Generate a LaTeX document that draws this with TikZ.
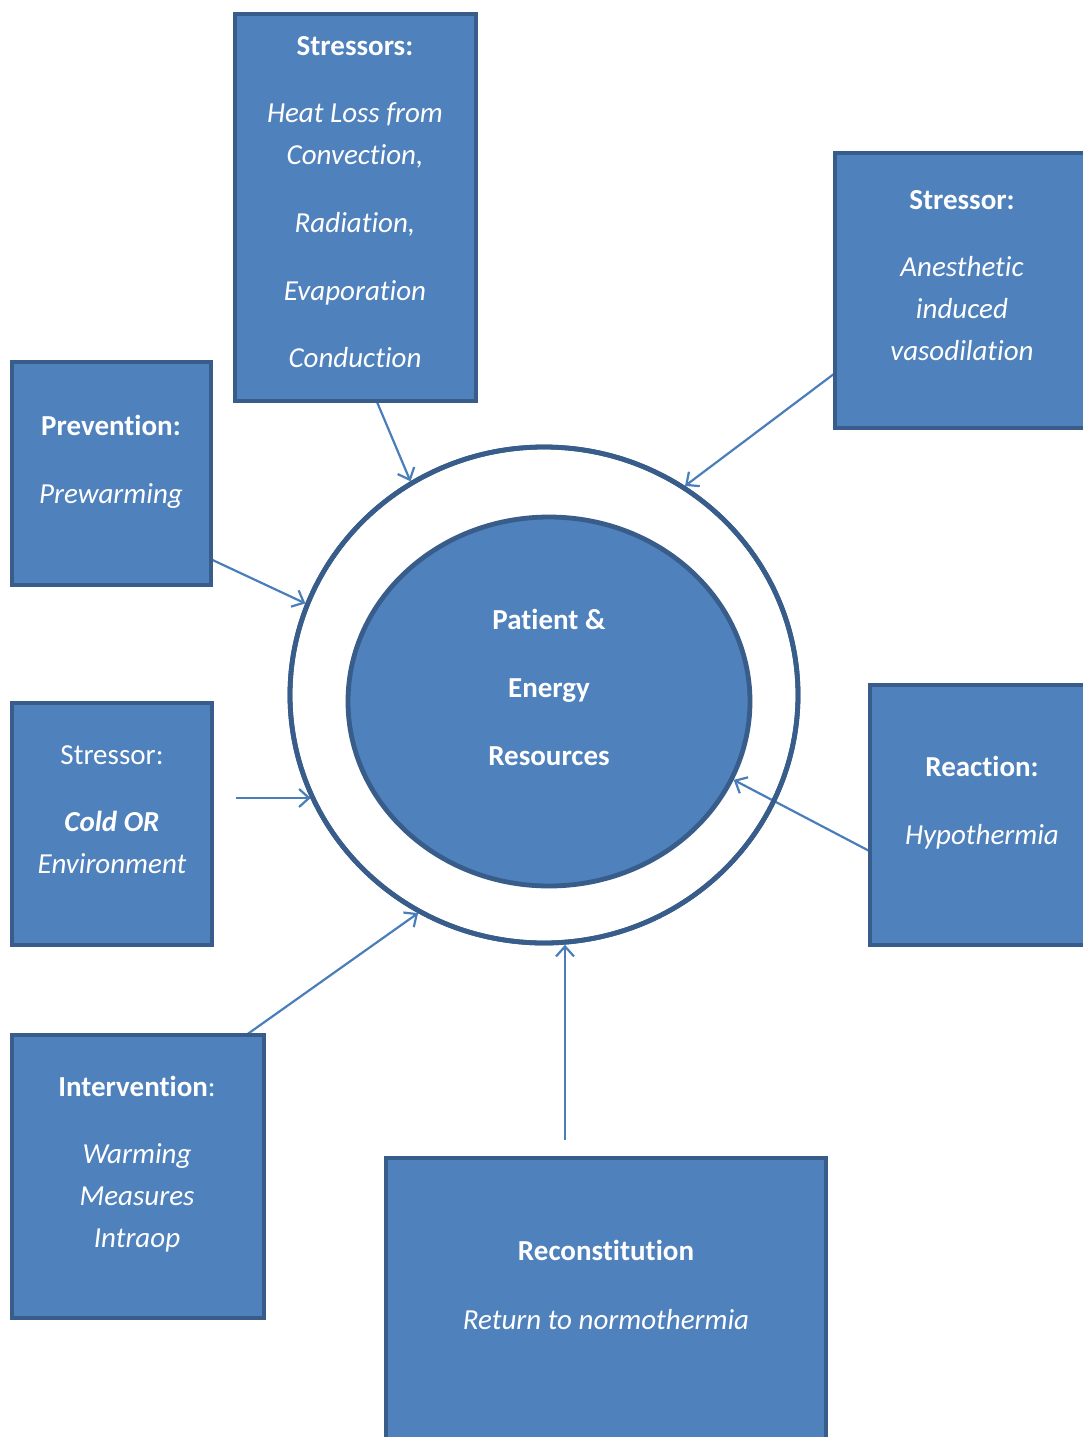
\documentclass[tikz,border=0pt]{standalone}
\usepackage{fontspec}
\setmainfont{Carlito}[Ligatures=CommonOff]
\usetikzlibrary{shapes.geometric,arrows.meta}
\definecolor{boxblue}{HTML}{4F81BD}
\definecolor{boxedge}{HTML}{385D8A}
\definecolor{linkblue}{HTML}{4A7EBB}
\begin{document}
\begin{tikzpicture}[x=0.5pt,y=-0.5pt]
            \tikzstyle{box}=[rectangle,draw=boxedge,line width=2.4pt,fill=boxblue,inner sep=0]
            \tikzstyle{txt}=[text=white,align=center,inner sep=0,anchor=north,font=\fontsize{14.5}{21}\selectfont]
            \tikzstyle{link}=[draw=linkblue,line width=1.1pt,-{Straight Barb[length=5pt,width=9pt]}]

            \useasboundingbox (0,0) rectangle (1083,1437);
            \clip (0,0) rectangle (1083,1437);

            % free ends of the connectors
            \coordinate (s1) at (369,383);
            \coordinate (s2) at (895,328);
            \coordinate (s3) at (95,505);
            \coordinate (s4) at (236,798);
            \coordinate (s5) at (187,1077);
            \coordinate (s6) at (877,855);
            \coordinate (s7) at (565,1140);

            \node(ring)[ellipse,draw=boxedge,line width=2.4pt,fill=white,minimum width=254pt,minimum height=248pt] at (544,695){};
            \node(core)[ellipse,draw=boxedge,line width=2.4pt,fill=boxblue,minimum width=201pt,minimum height=184.5pt] at (549,701.5){};

            \draw[link] (s1) -- (ring.122.3);
            \draw[link] (s2) -- (ring.56.1);
            \draw[link] (s3) -- (ring.159);
            \draw[link] (s4) -- (s4 -| ring.204);
            \draw[link] (s5) -- (ring.240.6);
            \draw[link] (s6) -- (core.337.1);
            \draw[link] (s7) -- (s7 |- ring.274.8);
            % redraw the ring over the crossing line
            \draw[boxedge,line width=2.4pt] (ring.center) ellipse (127pt and 124pt);

            \node(stress)[box,minimum width=120.5pt,minimum height=193.5pt] at (355.5,207.5){};
            \node(anest)[box,minimum width=132.5pt,minimum height=137.5pt] at (967.5,290.5){};
            \node(prev)[box,minimum width=99.5pt,minimum height=111.5pt] at (111.5,473.5){};
            \node(cold)[box,minimum width=100pt,minimum height=121pt] at (112,824){};
            \node(react)[box,minimum width=115pt,minimum height=130pt] at (985,815){};
            \node(interv)[box,minimum width=126pt,minimum height=141.5pt] at (138,1176.5){};
            \node(recon)[box,minimum width=220pt,minimum height=151pt] at (606,1309){};

            \node(coreT)[txt] at (549,609){\textbf{Patient \&}\\[13pt]\textbf{Energy}\\[13pt]\textbf{Resources}};
            \node(stressT)[txt] at (355,36){\textbf{Stressors:}\\[12.5pt]\textit{Heat Loss from}\\\textit{Convection,}\\[13pt]\textit{Radiation,}\\[13pt]\textit{Evaporation}\\[12.5pt]\textit{Conduction}};
            \node(anestT)[txt] at (962,190){\textbf{Stressor:}\\[12.5pt]\textit{Anesthetic}\\\textit{induced}\\\textit{vasodilation}};
            \node(prevT)[txt] at (111,415){\textbf{Prevention:}\\[13pt]\textit{Prewarming}};
            \node(coldT)[txt] at (112,745){Stressor:\\[12.5pt]\textbf{\textit{Cold OR}}\\\textit{Environment}};
            \node(reactT)[txt] at (982,756){\textbf{Reaction:}\\[13pt]\textit{Hypothermia}};
            \node(intervT)[txt] at (137,1076){\textbf{Intervention}:\\[12.5pt]\textit{Warming}\\\textit{Measures}\\\textit{Intraop}};
            \node(reconT)[txt] at (606,1240){\textbf{Reconstitution}\\[13.5pt]\textit{Return to normothermia}};
        \end{tikzpicture}
\end{document}
